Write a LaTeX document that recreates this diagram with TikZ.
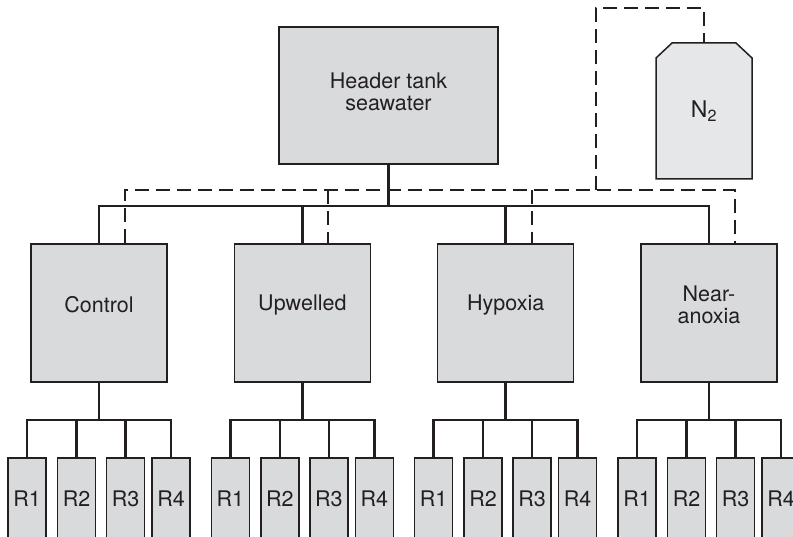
\documentclass[tikz,border=0pt]{standalone}
\usepackage{fontspec}
\setmainfont{TeX Gyre Heros}
\definecolor{ink}{HTML}{231F20}
\definecolor{boxfill}{HTML}{D9DADC}
\definecolor{gasfill}{HTML}{E6E7E8}
\begin{document}
\begin{tikzpicture}[x=1pt,y=1pt,
  labelfont/.style={font=\fontsize{21.5}{22}\selectfont, text=ink, align=center, inner sep=0pt},
  box/.style={draw=ink, fill=boxfill, line width=1.5pt, inner sep=0pt, labelfont},
  tankbox/.style={box, minimum width=219pt, minimum height=137pt},
  groupbox/.style={box, minimum width=136pt, minimum height=138pt},
  rbox/.style={box, minimum width=38pt, minimum height=81pt},
  wire/.style={draw=ink, line width=2.5pt, line cap=rect},
  gas/.style={draw=ink, line width=2pt, dash pattern=on 14pt off 7pt}
]
\useasboundingbox (0,0) rectangle (793,-537);
\clip (0,0) rectangle (793,-537);

% header tank
\node[tankbox] (header) at (388.5,-95.5) {};
\node[labelfont] (headertext) at (388.5,-92) {Header tank\\seawater};

% N2 cylinder (chamfered top)
\filldraw[draw=ink, fill=gasfill, line width=1.5pt, line join=miter]
  (656,-179) -- (656,-58) -- (672,-43) -- (736,-43) -- (752,-58) -- (752,-179) -- cycle;
\node[inner sep=0pt, minimum width=96pt, minimum height=136pt,
  font=\fontsize{23}{24}\selectfont, text=ink] (n2) at (704,-111) {N\textsubscript{2}};

% treatment boxes
\node[groupbox, label={[labelfont, yshift=8pt]center:Control}] (ctrl) at (99,-313) {};
\node[groupbox, label={[labelfont, yshift=8pt]center:Upwelled}] (upw) at (302.3,-313) {};
\node[groupbox, label={[labelfont, yshift=8pt]center:Hypoxia}] (hyp) at (505.7,-313) {};
\node[groupbox, label={[labelfont, yshift=8pt]center:{Near-\\anoxia}}] (near) at (709,-313) {};

% replicate tanks and their connectors
\foreach \g/\c in {ctrl/99, upw/302.3, hyp/505.7, near/709}{
  \foreach \i/\dx in {1/-72, 2/-22.5, 3/26.5, 4/72}{
    \node[rbox] (\g R\i) at ({\c+\dx},-498.5) {R\i};
  }
  \coordinate (\g Bar) at (\c,-420);
  \draw[wire] (\g.south) -- (\g Bar);
  \draw[wire] (\g R1.north) |- (\g R4.north |- \g Bar) -- (\g R4.north);
  \draw[wire] (\g R2.north) -- (\g R2.north |- \g Bar);
  \draw[wire] (\g R3.north) -- (\g R3.north |- \g Bar);
}

% seawater supply
\coordinate (bus) at (388.5,-206);
\draw[wire] (header.south) -- (header.south |- bus);
\draw[wire] (ctrl.north) |- (near.north |- bus) -- (near.north);
\draw[wire] (upw.north) -- (upw.north |- bus);
\draw[wire] (hyp.north) -- (hyp.north |- bus);

% nitrogen supply
\coordinate (gasbus) at (388.5,-190);
\path ([xshift=26pt]ctrl.north) coordinate (ctrlG)
      ([xshift=26pt]upw.north) coordinate (upwG)
      ([xshift=26pt]hyp.north) coordinate (hypG)
      ([xshift=26pt]near.north) coordinate (nearG);
\coordinate (tee) at (596,-190);
\coordinate (gtop) at (596,-8);
\draw[gas] (ctrlG) |- (nearG |- gasbus) -- (nearG);
\draw[gas] (upwG |- gasbus) -- (upwG);
\draw[gas] (hypG |- gasbus) -- (hypG);
\draw[gas] (tee) -- (gtop) -| (n2.north);
\end{tikzpicture}
\end{document}
